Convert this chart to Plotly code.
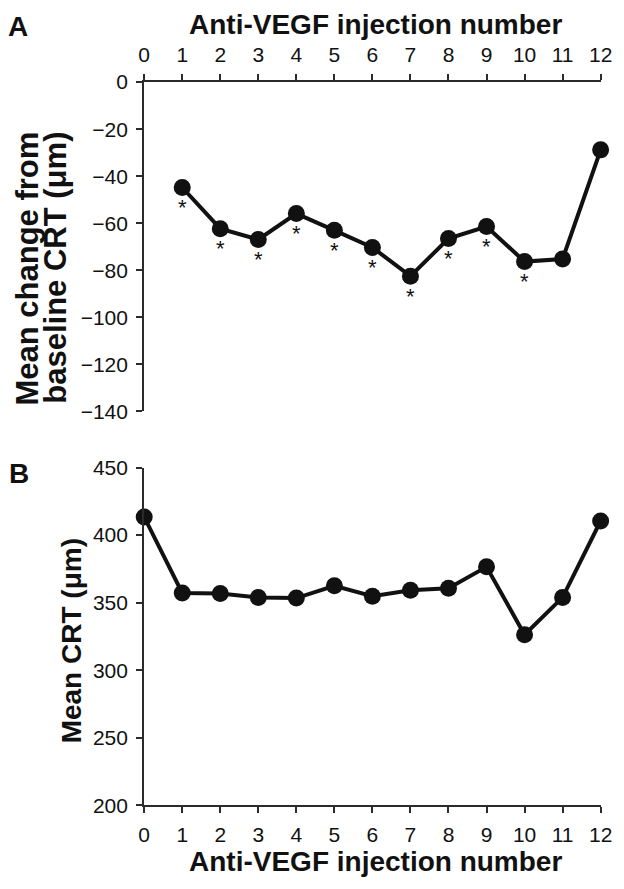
import plotly.graph_objects as go

# ---- data ----
injection_ticks = list(range(13))
change_x = [1, 2, 3, 4, 5, 6, 7, 8, 9, 10, 11, 12]
change_vals = [-44.8, -62.3, -66.9, -55.9, -63.0, -70.3, -82.5, -66.5, -61.4, -76.3, -75.2, -28.8]
significant_x = [1, 2, 3, 4, 5, 6, 7, 8, 9, 10]
crt_x = list(range(13))
crt_vals = [413.4, 357.2, 356.7, 353.9, 353.4, 362.5, 354.8, 359.2, 360.6, 376.5, 326.3, 353.9, 410.5]
change_ticks = [0, -20, -40, -60, -80, -100, -120, -140]
change_ticktext = ["0", "\u221220", "\u221240", "\u221260", "\u221280", "\u2212100", "\u2212120", "\u2212140"]
crt_ticks = [200, 250, 300, 350, 400, 450]

W, H = 624, 889
FONT = "Liberation Sans, Arial, Helvetica, sans-serif"
INK = "#111111"
AX = "#2b2b2b"

def px_x(p):
    return p / W

def px_y(p):
    return 1 - p / H

xdom = [px_x(142.3), px_x(612.3)]
ydomA = [px_y(410), px_y(72)]
ydomB = [px_y(814.3), px_y(467.7)]

fig = go.Figure()
fig.add_trace(go.Scatter(
    x=change_x, y=change_vals, mode="lines+markers",
    line=dict(color=INK, width=4), marker=dict(color=INK, size=17),
    cliponaxis=False, xaxis="x", yaxis="y", showlegend=False))
fig.add_trace(go.Scatter(
    x=crt_x, y=crt_vals, mode="lines+markers",
    line=dict(color=INK, width=4), marker=dict(color=INK, size=17),
    cliponaxis=False, xaxis="x2", yaxis="y2", showlegend=False))

axis_common = dict(
    showline=True, linecolor=AX, linewidth=2, showgrid=False, zeroline=False,
    ticks="outside", ticklen=6, tickwidth=2, tickcolor=AX,
    tickfont=dict(family=FONT, size=21, color=INK), mirror=False,
    ticklabelstandoff=4,
)

annotations = []
for sx in significant_x:
    sy = change_vals[change_x.index(sx)]
    annotations.append(dict(
        x=sx, y=sy, xref="x", yref="y", text="*", showarrow=False,
        yshift=-20, yanchor="middle", xanchor="center",
        font=dict(family=FONT, size=22, color=INK)))

title_font = dict(family=FONT, size=28, color=INK, weight="bold")
ylab_font = dict(family=FONT, size=31, color=INK, weight="bold")
annotations += [
    dict(x=380 / W, y=px_y(13), xref="paper", yref="paper",
         text="Anti-VEGF injection number", showarrow=False,
         xanchor="center", yanchor="middle", font=title_font),
    dict(x=380 / W, y=px_y(872), xref="paper", yref="paper",
         text="Anti-VEGF injection number", showarrow=False,
         xanchor="center", yanchor="middle", font=title_font),
    dict(x=px_x(22), y=px_y(263), xref="paper", yref="paper",
         text="Mean change from", showarrow=False,
         textangle=-90, xanchor="center", yanchor="middle", font=ylab_font),
    dict(x=px_x(51), y=px_y(263), xref="paper", yref="paper",
         text="baseline CRT (\u03bcm)", showarrow=False,
         textangle=-90, xanchor="center", yanchor="middle", font=ylab_font),
    dict(x=px_x(67), y=px_y(646), xref="paper", yref="paper",
         text="Mean CRT (\u03bcm)", showarrow=False,
         textangle=-90, xanchor="center", yanchor="middle",
         font=dict(family=FONT, size=28, color=INK, weight="bold")),
    dict(x=px_x(12), y=px_y(15), xref="paper", yref="paper",
         text="A", showarrow=False, xanchor="center", yanchor="middle",
         font=title_font),
    dict(x=px_x(13.5), y=px_y(474), xref="paper", yref="paper",
         text="B", showarrow=False, xanchor="center", yanchor="middle",
         font=title_font),
]

fig.update_layout(
    width=W, height=H,
    margin=dict(l=0, r=0, t=0, b=0),
    paper_bgcolor="white", plot_bgcolor="white",
    xaxis=dict(domain=xdom, anchor="y", side="top", range=[0, 12],
               tickvals=injection_ticks, **axis_common),
    yaxis=dict(domain=ydomA, anchor="x", range=[-140, 0],
               tickvals=change_ticks, ticktext=change_ticktext, **axis_common),
    xaxis2=dict(domain=xdom, anchor="y2", range=[0, 12],
                tickvals=injection_ticks, **axis_common),
    yaxis2=dict(domain=ydomB, anchor="x2", range=[200, 450],
                tickvals=crt_ticks, **axis_common),
    annotations=annotations,
)

fig.write_html("out.html", config={"displayModeBar": False},
               post_script="document.body.style.margin='0';document.body.style.overflow='hidden';")
